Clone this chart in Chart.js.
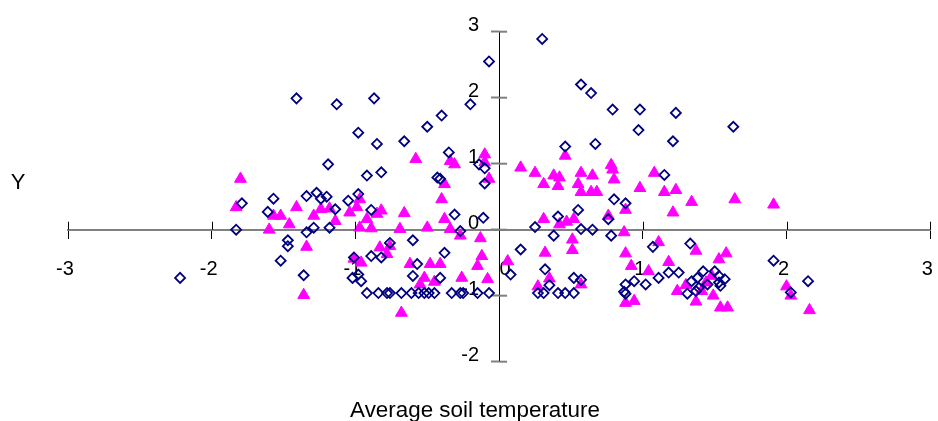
<!DOCTYPE html>
<html><head><meta charset="utf-8">
<script src="https://cdn.jsdelivr.net/npm/chart.js@4.4.1/dist/chart.umd.min.js"></script>
<style>html,body{margin:0;padding:0;background:#fff;overflow:hidden}#wrap{width:938px;height:421px;position:relative}</style>
</head><body><div id="wrap"><canvas id="c" width="938" height="421"></canvas></div>
<script>
// ---- data ----
const xTicks = [-3, -2, -1, 0, 1, 2, 3];
const yTicks = [-2, -1, 0, 1, 2, 3];
const xTitle = 'Average soil temperature';
const yTitle = 'Y';

const diamondX = [-2.22,-1.83,-1.79,-1.57,-1.61,-1.52,-1.47,-1.47,-1.41,-1.36,-1.34,-1.34,-1.29,-1.27,-1.24,-1.20,-1.19,-1.18,-1.14,-1.13,-1.05,-1.02,-0.98,-0.96,-1.01,-0.98,-0.98,-0.92,-0.89,-0.89,-0.87,-0.85,-0.82,-0.82,-0.76,-0.66,-0.60,-0.57,-0.60,-0.50,-0.43,-0.41,-0.41,-0.40,-0.38,-0.35,-0.31,-0.27,-0.20,-0.14,-0.10,-0.10,-0.11,-0.07,0.08,0.15,0.25,0.30,0.32,0.35,0.38,0.41,0.46,0.52,0.55,0.57,0.57,0.57,0.64,0.65,0.67,0.76,0.78,0.79,0.80,0.87,0.88,0.88,0.88,0.94,0.97,0.98,1.02,1.07,1.11,1.15,1.18,1.21,1.23,1.25,1.31,1.33,1.37,1.38,1.42,1.34,1.45,1.50,1.53,1.53,1.54,1.57,1.39,1.63,1.91,2.03,2.15,-0.92,-0.84,-0.78,-0.76,-0.68,-0.61,-0.56,-0.52,-0.49,-0.45,-0.33,-0.27,-0.25,-0.15,-0.07,0.27,0.31,0.41,0.46,0.52];
const diamondY = [-0.73,0.00,0.40,0.47,0.27,-0.47,-0.16,-0.25,1.99,-0.69,0.51,-0.04,0.03,0.56,0.47,0.50,0.99,0.03,0.31,1.90,0.44,-0.73,-0.68,-0.78,-0.42,0.54,1.47,0.82,0.30,-0.40,1.99,1.30,-0.42,0.87,-0.20,1.34,-0.16,-0.52,-0.70,1.56,0.79,0.77,-0.73,1.73,-0.35,1.17,0.23,-0.02,1.90,0.99,0.93,0.70,0.18,2.55,-0.68,-0.30,0.04,2.89,-0.60,-0.84,-0.09,0.20,1.26,-0.73,0.30,2.20,0.01,-0.76,2.07,0.00,1.30,0.16,-0.09,1.82,0.46,-0.94,-0.97,0.40,-0.83,-0.78,1.51,1.82,-0.83,-0.26,-0.73,0.83,-0.65,1.34,1.77,-0.65,-0.97,-0.21,-0.93,-0.73,-0.63,-0.78,-0.83,-0.63,-0.70,-0.80,-0.85,-0.75,-0.88,1.56,-0.47,-0.95,-0.78,-0.96,-0.96,-0.96,-0.96,-0.96,-0.96,-0.96,-0.96,-0.96,-0.96,-0.96,-0.96,-0.96,-0.96,-0.96,-0.96,-0.96,-0.96,-0.96,-0.96];

const triangleX = [-1.80,-1.83,-1.60,-1.57,-1.52,-1.46,-1.41,-1.36,-1.34,-1.29,-1.24,-1.18,-1.14,-1.04,-1.01,-0.97,-0.99,-0.97,-0.96,-0.92,-0.89,-0.85,-0.82,-0.83,-0.78,-0.76,-0.69,-0.68,-0.66,-0.62,-0.58,-0.55,-0.52,-0.50,-0.48,-0.45,-0.41,-0.40,-0.38,-0.38,-0.34,-0.34,-0.31,-0.27,-0.26,-0.15,-0.13,-0.12,-0.10,-0.10,-0.08,-0.07,0.06,0.15,0.25,0.27,0.31,0.31,0.32,0.35,0.38,0.41,0.42,0.42,0.46,0.47,0.51,0.51,0.52,0.55,0.57,0.57,0.57,0.64,0.65,0.68,0.76,0.78,0.79,0.80,0.87,0.88,0.88,0.88,0.92,0.94,0.98,1.04,1.08,1.11,1.15,1.18,1.21,1.23,1.24,1.30,1.34,1.37,1.37,1.41,1.44,1.48,1.49,1.53,1.58,1.54,1.59,1.64,1.91,2.00,2.03,2.16];
const triangleY = [0.77,0.34,0.00,0.21,0.21,0.08,0.34,-0.99,-0.26,0.21,0.31,0.32,0.13,0.26,-0.44,0.46,0.34,0.03,-0.50,0.16,0.02,0.24,0.29,-0.27,-0.37,-0.25,0.01,-1.26,0.25,-0.52,1.07,-0.83,-0.73,0.03,-0.52,-0.79,-0.52,0.46,0.69,0.16,0.01,1.04,0.99,-0.09,-0.73,-0.55,-0.13,-0.40,1.14,1.02,-0.75,0.77,-0.48,0.94,0.86,-0.86,0.69,0.16,-0.35,-0.74,0.82,0.66,0.08,0.79,1.12,0.12,-0.15,-0.31,0.16,0.69,0.86,-0.83,0.57,0.57,0.82,0.57,0.21,0.98,0.91,0.76,-0.04,-0.36,0.30,-1.11,-0.55,-1.08,0.63,-0.63,0.86,-0.19,0.57,-0.49,0.26,0.60,-0.93,-0.84,0.42,-0.32,-1.09,-0.93,-0.80,-0.70,-1.00,-0.45,-0.36,-1.18,-1.18,0.46,0.38,-0.86,-1.00,-1.22];

const diamonds = diamondX.map((x, i) => ({ x, y: diamondY[i] }));
const triangles = triangleX.map((x, i) => ({ x, y: triangleY[i] }));

const FONT = "'Liberation Sans', Arial, sans-serif";
Chart.defaults.font.family = FONT;

function zeroFit(s) {
  if (s.isHorizontal()) s.height = 0; else s.width = 0;
  s.paddingLeft = 0; s.paddingRight = 0; s.paddingTop = 0; s.paddingBottom = 0;
}

// move the centre-positioned axes' labels off the axis lines, as in the reference
const labelShift = {
  id: 'labelShift',
  beforeDraw(chart) {
    const ys = chart.scales.y, xs = chart.scales.x;
    if (!ys._shifted) {
      ys.getLabelItems().forEach(it => { it.options.translation[0] -= 20; });
      ys._shifted = true;
    }
    if (!xs._shifted) {
      xs.getLabelItems().forEach(it => { if (String(it.label) === '0') it.options.translation[0] += 9; });
      xs._shifted = true;
    }
  }
};

const crossTicks = {
  id: 'crossTicks',
  afterDraw(chart) {
    const ctx = chart.ctx, xs = chart.scales.x, ys = chart.scales.y;
    const ax = ys.getPixelForValue(0), ay = xs.getPixelForValue(0);
    ctx.save();
    ctx.strokeStyle = '#000'; ctx.lineWidth = 1;
    xTicks.forEach(v => {
      const p = Math.round(xs.getPixelForValue(v)) + 0.5;
      ctx.beginPath(); ctx.moveTo(p, ax - 8); ctx.lineTo(p, ax); ctx.stroke();
    });
    ctx.strokeStyle = '#808080'; ctx.lineWidth = 2;
    yTicks.forEach(v => {
      const p = ys.getPixelForValue(v);
      ctx.beginPath(); ctx.moveTo(ay, p); ctx.lineTo(ay + 8, p); ctx.stroke();
    });
    ctx.fillStyle = '#000';
    ctx.font = "22px " + FONT;
    ctx.textAlign = 'center'; ctx.textBaseline = 'middle';
    ctx.fillText(yTitle, 18, 183);
    ctx.font = "22.4px " + FONT;
    ctx.fillText(xTitle, 475, 411);
    ctx.restore();
  }
};

new Chart(document.getElementById('c'), {
  type: 'scatter',
  data: {
    datasets: [
      { label: 'A', data: diamonds, pointStyle: 'rectRot', pointRadius: 5, pointHoverRadius: 5,
        borderColor: '#000080', backgroundColor: 'rgba(255,255,255,0)', borderWidth: 1.8 },
      { label: 'B', data: triangles, pointStyle: 'triangle', pointRadius: 6.8, pointHoverRadius: 6.8,
        borderColor: '#FF00FF', backgroundColor: '#FF00FF', borderWidth: 1 }
    ]
  },
  options: {
    responsive: false, animation: false, devicePixelRatio: 1,
    layout: { padding: { left: 68, right: 0.5, top: 31.7, bottom: 59.3 } },
    plugins: { legend: { display: false }, tooltip: { enabled: false }, title: { display: false } },
    scales: {
      x: {
        type: 'linear', min: -3, max: 3, position: { y: 0 },
        afterBuildTicks: s => { s.ticks = xTicks.map(v => ({ value: v })); },
        afterFit: zeroFit,
        border: { display: true, color: '#808080', width: 2 },
        grid: { drawOnChartArea: false, drawTicks: true, tickLength: 8, tickColor: '#000', tickWidth: 1 },
        ticks: { color: '#000', font: { size: 20 }, padding: 20, labelOffset: -3, maxRotation: 0, autoSkip: false }
      },
      y: {
        type: 'linear', min: -2, max: 3, position: { x: 0 },
        afterBuildTicks: s => { s.ticks = yTicks.map(v => ({ value: v })); },
        afterFit: zeroFit,
        border: { display: true, color: '#000', width: 1 },
        grid: { drawOnChartArea: false, drawTicks: true, tickLength: 8, tickColor: '#808080', tickWidth: 2 },
        ticks: { color: '#000', font: { size: 20 }, padding: 14, labelOffset: -6, autoSkip: false }
      }
    }
  },
  plugins: [labelShift, crossTicks]
});
</script></body></html>
